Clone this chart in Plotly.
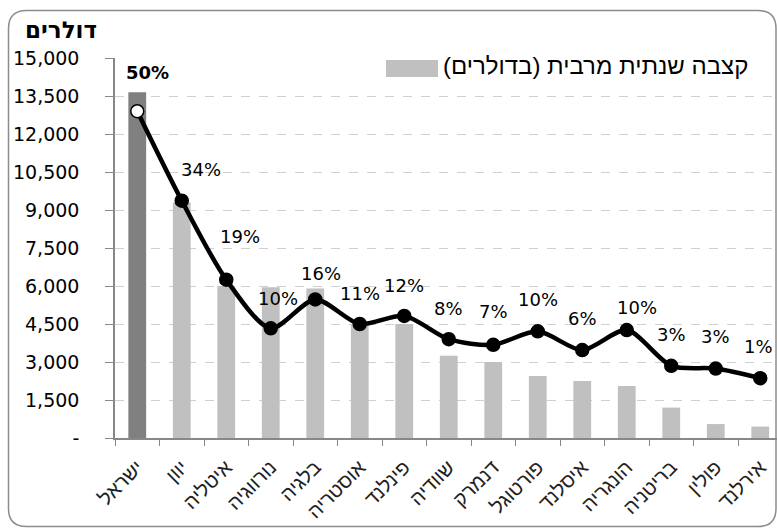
import plotly.graph_objects as go

# ---- data ----
countries = ["ישראל", "יוון", "איטליה", "נורווגיה", "בלגיה", "אוסטריה", "פינלנד",
             "שוודיה", "דנמרק", "פורטוגל", "איסלנד", "הונגריה", "בריטניה", "פולין", "אירלנד"]
max_pension = [13650, 9300, 6000, 5950, 5900, 4500, 4500,
               3250, 3000, 2450, 2250, 2050, 1200, 550, 450]
line_values = [12900, 9370, 6250, 4330, 5470, 4500, 4820,
               3900, 3680, 4210, 3470, 4260, 2850, 2740, 2360]
pct_labels = ["50%", "34%", "19%", "10%", "16%", "11%", "12%",
              "8%", "7%", "10%", "6%", "10%", "3%", "3%", "1%"]
y_tickvals = [0, 1500, 3000, 4500, 6000, 7500, 9000, 10500, 12000, 13500, 15000]
y_ticktext = ["-", "1,500", "3,000", "4,500", "6,000", "7,500", "9,000",
              "10,500", "12,000", "13,500", "15,000"]
legend_text = "קצבה שנתית מרבית (בדולרים)"
axis_title = "דולרים"

# ---- style ----
W, H = 777, 530
ML, MR, MT, MB = 115, 0, 58, 92
PW, PH = W - ML - MR, H - MT - MB
CAT_W = 44.5
bar_colors = ["#808080"] + ["#c0c0c0"] * (len(countries) - 1)
label_offsets = [(10, 20), (19, 31), (14, 43), (7, 30), (6, 26), (0, 31), (0, 30),
                 (0, 31), (0, 33), (0, 32), (0, 32), (10, 23), (0, 31), (0, 32), (-2, 32)]

def px(x):
    return (x - ML) / PW

def py(y):
    return (H - MB - y) / PH

fig = go.Figure()
fig.add_trace(go.Bar(x=countries, y=max_pension, marker=dict(color=bar_colors, line=dict(width=0)),
                     showlegend=False, hoverinfo="x+y"))
fig.add_trace(go.Scatter(x=countries, y=line_values, mode="lines+markers",
                         line=dict(color="black", width=4.5, shape="spline", smoothing=0.8),
                         marker=dict(size=13, color=["white"] + ["black"] * (len(countries) - 1),
                                     line=dict(color="black", width=1.5)),
                         showlegend=False))

annotations = []
for i, (c, lab) in enumerate(zip(countries, pct_labels)):
    dx, dy = label_offsets[i]
    yv = max_pension[i] if i == 0 else line_values[i]
    annotations.append(dict(x=c, y=yv, xref="x", yref="y", text=("<b>%s</b>" % lab) if i == 0 else lab,
                            showarrow=False, xshift=dx, yshift=dy,
                            font=dict(family="DejaVu Sans", size=18, color="black")))

annotations.append(dict(x=px(61), y=py(30), xref="paper", yref="paper", text="<b>%s</b>" % axis_title,
                        showarrow=False, xanchor="center", yanchor="middle",
                        font=dict(family="DejaVu Sans", size=23, color="black")))
annotations.append(dict(x=px(750), y=py(66), xref="paper", yref="paper", text=legend_text + "\u200f",
                        showarrow=False, xanchor="right", yanchor="middle",
                        font=dict(family="Liberation Sans", size=24, color="black")))

# chart border with rounded corners
L, T, R, B, r = 8.5, 10.5, 776, 526.5, 18
pts = lambda x, y: "%f,%f" % (px(x), py(y))
border = ("M " + pts(L, T + r) + " L " + pts(L, B - r) + " Q " + pts(L, B) + " " + pts(L + r, B) +
          " L " + pts(R - r, B) + " Q " + pts(R, B) + " " + pts(R, B - r) +
          " L " + pts(R, T + r) + " Q " + pts(R, T) + " " + pts(R - r, T) +
          " L " + pts(L + r, T) + " Q " + pts(L, T) + " " + pts(L, T + r) + " Z")
shapes = [
    dict(type="path", path=border, xref="paper", yref="paper", line=dict(color="#8c8c8c", width=1.5)),
    dict(type="rect", x0=px(386), x1=px(438), y0=py(77), y1=py(60), xref="paper", yref="paper",
         fillcolor="#c0c0c0", line=dict(width=0)),
]

fig.update_layout(
    width=W, height=H, autosize=False,
    margin=dict(l=ML, r=MR, t=MT, b=MB, pad=0),
    paper_bgcolor="white", plot_bgcolor="white",
    bargap=0.6,
    annotations=annotations, shapes=shapes,
    xaxis=dict(type="category", range=[-0.5, -0.5 + PW / CAT_W], tickson="boundaries",
               ticks="outside", ticklen=6, tickcolor="#888", showline=True, linecolor="#888", linewidth=1.5,
               showgrid=False, tickangle=-45, automargin=False, ticklabelstandoff=8,
               tickfont=dict(family="Liberation Sans", size=20, color="#222")),
    yaxis=dict(range=[0, 15000], tickvals=y_tickvals, ticktext=y_ticktext,
               ticks="outside", ticklen=8, tickcolor="#888", showline=True, linecolor="#888", linewidth=1.5,
               showgrid=True, gridcolor="#d0d0d0", griddash="dash", gridwidth=1,
               ticklabelstandoff=22, zeroline=False, automargin=False,
               tickfont=dict(family="DejaVu Sans", size=19, color="black")),
)

fig.write_html("out.html", config={"displayModeBar": False},
               post_script="document.body.style.margin='0px';document.body.style.overflow='hidden';")
